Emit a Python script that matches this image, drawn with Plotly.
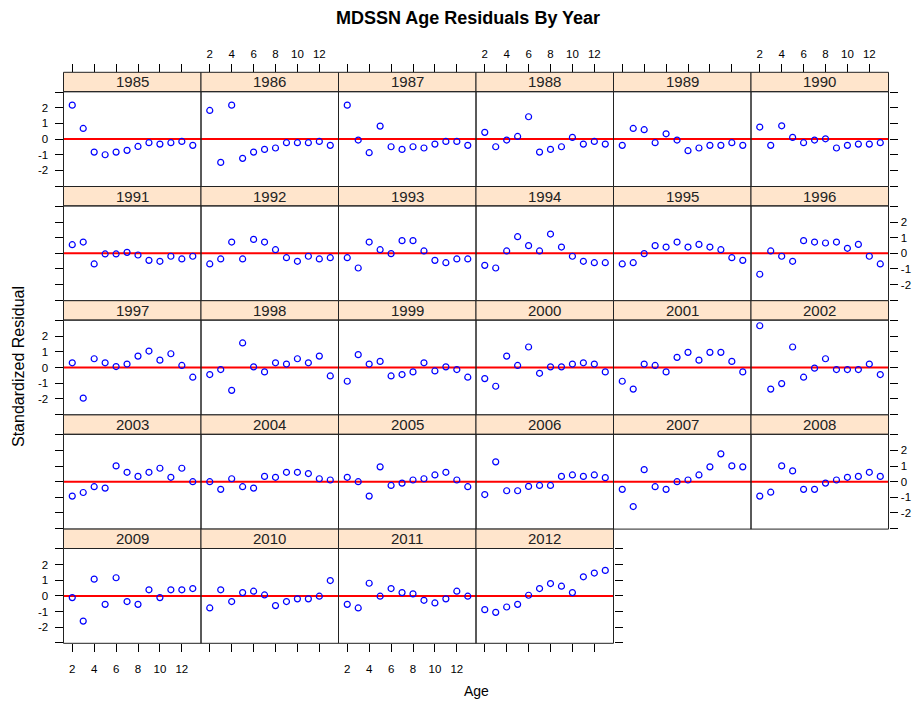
import plotly.graph_objects as go

# Data
years = list(range(1985, 2013))
ages = [2, 3, 4, 5, 6, 7, 8, 9, 10, 11, 12, 13]

res_1985 = [2.17, 0.68, -0.83, -1.00, -0.83, -0.72, -0.47, -0.23, -0.32, -0.23, -0.15, -0.40]
res_1986 = [1.83, -1.49, 2.17, -1.23, -0.83, -0.66, -0.57, -0.23, -0.23, -0.23, -0.15, -0.40]
res_1987 = [2.17, -0.06, -0.87, 0.83, -0.49, -0.66, -0.49, -0.57, -0.32, -0.15, -0.15, -0.40]
res_1988 = [0.43, -0.49, -0.06, 0.17, 1.43, -0.83, -0.66, -0.49, 0.11, -0.32, -0.15, -0.32]
res_1989 = [-0.40, 0.68, 0.60, -0.23, 0.34, -0.06, -0.74, -0.57, -0.40, -0.40, -0.23, -0.40]
res_1990 = [0.77, -0.40, 0.85, 0.11, -0.23, -0.06, 0.02, -0.57, -0.40, -0.32, -0.32, -0.23]
res_1991 = [0.55, 0.72, -0.68, -0.04, -0.04, 0.06, -0.11, -0.45, -0.51, -0.19, -0.36, -0.19]
res_1992 = [-0.68, -0.36, 0.72, -0.36, 0.89, 0.72, 0.23, -0.28, -0.51, -0.19, -0.36, -0.28]
res_1993 = [-0.28, -0.94, 0.72, 0.23, -0.02, 0.81, 0.81, 0.15, -0.45, -0.60, -0.36, -0.36]
res_1994 = [-0.77, -0.94, 0.15, 1.06, 0.49, 0.15, 1.23, 0.40, -0.19, -0.51, -0.60, -0.60]
res_1995 = [-0.68, -0.60, -0.02, 0.49, 0.40, 0.72, 0.40, 0.57, 0.40, 0.23, -0.28, -0.45]
res_1996 = [-1.34, 0.15, -0.19, -0.51, 0.81, 0.72, 0.66, 0.72, 0.32, 0.57, -0.19, -0.68]
res_1997 = [0.30, -1.96, 0.56, 0.30, 0.06, 0.22, 0.73, 1.05, 0.47, 0.88, 0.13, -0.62]
res_1998 = [-0.45, -0.13, -1.46, 1.57, 0.04, -0.28, 0.30, 0.22, 0.56, 0.30, 0.73, -0.54]
res_1999 = [-0.88, 0.82, 0.22, 0.39, -0.54, -0.45, -0.28, 0.30, -0.22, 0.04, -0.13, -0.62]
res_2000 = [-0.71, -1.20, 0.73, 0.13, 1.31, -0.37, 0.04, 0.04, 0.22, 0.30, 0.22, -0.28]
res_2001 = [-0.88, -1.38, 0.22, 0.13, -0.28, 0.65, 0.97, 0.47, 0.97, 0.97, 0.39, -0.28]
res_2002 = [2.67, -1.38, -1.03, 1.31, -0.62, -0.04, 0.56, -0.13, -0.13, -0.13, 0.22, -0.45]
res_2003 = [-0.92, -0.69, -0.32, -0.41, 1.01, 0.60, 0.34, 0.60, 0.86, 0.28, 0.86, 0.00]
res_2004 = [0.00, -0.49, 0.19, -0.32, -0.41, 0.34, 0.28, 0.60, 0.60, 0.52, 0.19, 0.11]
res_2005 = [0.28, 0.00, -0.92, 0.95, -0.24, -0.09, 0.11, 0.19, 0.43, 0.60, 0.11, -0.32]
res_2006 = [-0.82, 1.27, -0.58, -0.58, -0.30, -0.24, -0.24, 0.34, 0.43, 0.34, 0.43, 0.26]
res_2007 = [-0.49, -1.59, 0.77, -0.32, -0.49, 0.00, 0.11, 0.43, 0.95, 1.78, 1.01, 0.95]
res_2008 = [-0.92, -0.67, 1.01, 0.69, -0.49, -0.49, -0.09, 0.11, 0.28, 0.34, 0.60, 0.34]
res_2009 = [-0.11, -1.61, 1.07, -0.54, 1.16, -0.36, -0.54, 0.39, -0.11, 0.39, 0.39, 0.47]
res_2010 = [-0.77, 0.39, -0.36, 0.21, 0.30, 0.06, -0.62, -0.36, -0.19, -0.19, -0.02, 0.98]
res_2011 = [-0.54, -0.77, 0.81, -0.02, 0.47, 0.21, 0.13, -0.28, -0.45, -0.19, 0.30, -0.02]
res_2012 = [-0.88, -1.05, -0.71, -0.54, 0.04, 0.47, 0.79, 0.62, 0.21, 1.22, 1.46, 1.63]

residuals = [res_1985, res_1986, res_1987, res_1988, res_1989, res_1990,
             res_1991, res_1992, res_1993, res_1994, res_1995, res_1996,
             res_1997, res_1998, res_1999, res_2000, res_2001, res_2002,
             res_2003, res_2004, res_2005, res_2006, res_2007, res_2008,
             res_2009, res_2010, res_2011, res_2012]

x_ticks = [2, 4, 6, 8, 10, 12]
y_ticks = [-3, -2, -1, 0, 1, 2, 3]
y_ticktext = ['', '-2', '-1', '0', '1', '2', '']

# Page geometry (pixels)
W, H = 916, 705
ncol = 6
col_left, col_w = 63.5, 137.5
row_top, row_h, strip_h = 72.3, 114.2, 19.4
font = 'Liberation Sans, Arial, sans-serif'

def px(x):
    return x / W

def py(y):
    return 1 - y / H

fig = go.Figure()
shapes = []
annotations = []
layout = {}
n_panels = len(years)
last_row = (n_panels - 1) // ncol

for i, (year, res) in enumerate(zip(years, residuals)):
    r, c = divmod(i, ncol)
    n = i + 1
    sfx = '' if n == 1 else str(n)
    x0 = col_left + c * col_w
    x1 = x0 + col_w
    s0 = row_top + r * row_h
    p0 = s0 + strip_h
    p1 = s0 + row_h

    fig.add_trace(go.Scatter(
        x=ages, y=res, mode='markers',
        marker=dict(symbol='circle-open', size=6, color='blue',
                    line=dict(width=1.2, color='blue')),
        xaxis='x' + sfx, yaxis='y' + sfx, showlegend=False,
        cliponaxis=False
    ))

    xax = dict(domain=[px(x0), px(x1)], range=[1.2, 13.75],
               tickvals=x_ticks, showgrid=False, zeroline=False,
               showline=False, ticks='', showticklabels=False,
               tickfont=dict(family=font, size=11.5, color='black'),
               ticklen=8, tickcolor='black', anchor='y' + sfx,
               automargin=False)
    if r == 0:
        xax.update(side='top', anchor='free', position=py(s0),
                   ticks='outside', showticklabels=(c % 2 == 1),
                   ticklabelstandoff=2)
    elif r == last_row:
        xax.update(side='bottom', ticks='outside',
                   showticklabels=(c % 2 == 0), ticklabelstandoff=7)

    yax = dict(domain=[py(p1), py(p0)], range=[-3.03, 3.03],
               tickvals=y_ticks, ticktext=y_ticktext, showgrid=False,
               zeroline=False, showline=False, ticks='',
               showticklabels=False,
               tickfont=dict(family=font, size=11.5, color='black'),
               ticklen=8, tickcolor='black', anchor='x' + sfx,
               automargin=False)
    if c == 0:
        yax.update(side='left', ticks='outside',
                   showticklabels=(r % 2 == 0), ticklabelstandoff=4)
    elif c == ncol - 1 or i == n_panels - 1:
        yax.update(side='right', ticks='outside',
                   showticklabels=(r % 2 == 1), ticklabelstandoff=1)

    layout['xaxis' + sfx] = xax
    layout['yaxis' + sfx] = yax

    # strip
    shapes.append(dict(type='rect', xref='paper', yref='paper',
                       x0=px(x0), x1=px(x1), y0=py(p0), y1=py(s0),
                       fillcolor='#FFE5CC', line=dict(color='#222', width=1)))
    # panel box
    shapes.append(dict(type='rect', xref='paper', yref='paper',
                       x0=px(x0), x1=px(x1), y0=py(p1), y1=py(p0),
                       line=dict(color='#222', width=1)))
    # zero reference line
    shapes.append(dict(type='line', xref='x' + sfx + ' domain', yref='y' + sfx,
                       x0=0, x1=1, y0=0, y1=0, layer='below',
                       line=dict(color='red', width=2)))
    annotations.append(dict(text=str(year), xref='paper', yref='paper',
                            x=px((x0 + x1) / 2), y=py(s0 + strip_h / 2),
                            xanchor='center', yanchor='middle',
                            showarrow=False,
                            font=dict(family=font, size=15, color='#222')))

annotations.append(dict(text='<b>MDSSN Age Residuals By Year</b>',
                        xref='paper', yref='paper', x=px(468), y=py(18),
                        xanchor='center', yanchor='middle', showarrow=False,
                        font=dict(family=font, size=18, color='black')))
annotations.append(dict(text='Age', xref='paper', yref='paper',
                        x=px(477), y=py(691),
                        xanchor='center', yanchor='middle', showarrow=False,
                        font=dict(family=font, size=14, color='black')))
annotations.append(dict(text='Standardized Residual', xref='paper', yref='paper',
                        x=px(18), y=py(367), textangle=-90,
                        xanchor='center', yanchor='middle', showarrow=False,
                        font=dict(family=font, size=16, color='black')))

fig.update_layout(
    width=W, height=H,
    margin=dict(l=0, r=0, t=0, b=0),
    paper_bgcolor='white',
    plot_bgcolor='rgba(0,0,0,0)',
    shapes=shapes,
    annotations=annotations,
    **layout
)

# the page body has a default margin; remove it so pixels line up
fig.write_html("out.html", config={'displayModeBar': False},
               post_script="document.body.style.margin='0';")
